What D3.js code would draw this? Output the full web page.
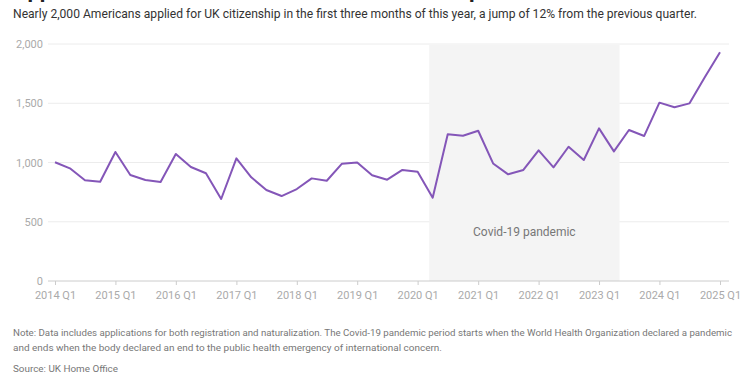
<!DOCTYPE html>
<html>
<head>
<meta charset="utf-8">
<script src="https://cdn.jsdelivr.net/npm/d3@7"></script>
<style>
  body { margin: 0; background: #fff; }
  svg { display: block; font-family: Roboto, sans-serif; }
</style>
</head>
<body>
<div id="chart"></div>
<script>
// quarterly applications, 2014 Q1 .. 2025 Q1
const startYear = 2014
const applications = [
  1002, 951, 850, 838,
  1089, 894, 852, 835,
  1072, 962, 909, 692,
  1035, 875, 768, 717,
  776, 866, 846, 990,
  1001, 892, 855, 937,
  922, 703, 1238, 1226,
  1268, 992, 900, 937,
  1103, 959, 1133, 1021,
  1288, 1094, 1274, 1224,
  1505, 1466, 1499, 1719,
  1930
]
const yTicks = [0, 500, 1000, 1500, 2000]
const xTickYears = d3.range(2014, 2026)
const covidStart = new Date(2020, 2, 11)
const covidEnd = new Date(2023, 4, 5)

const data = applications.map((v, i) => ({
  date: new Date(startYear + Math.floor(i / 4), (i % 4) * 3, 1),
  value: v
}))

let width = 750
let height = 375
let margin = {top: 44, right: 30, bottom: 94, left: 55}

const svg = d3.select('#chart').append('svg')
  .attr('width', width)
  .attr('height', height)

// title is mostly cut off at top of the frame
svg.append('text')
  .attr('x', 13).attr('y', -3.5)
  .attr('font-size', 22).attr('font-weight', 700).attr('fill', '#222')
  .text('Applications from Americans for UK citizenship hit a record')

svg.append('text')
  .attr('x', 13).attr('y', 18)
  .attr('font-size', 12.2).attr('fill', '#333')
  .attr('textLength', 684).attr('lengthAdjust', 'spacingAndGlyphs')
  .text('Nearly 2,000 Americans applied for UK citizenship in the first three months of this year, a jump of 12% from the previous quarter.')

const x = d3.scaleTime()
  .domain([new Date(2014, 0, 1), new Date(2025, 0, 1)])
  .range([margin.left, 720])

const y = d3.scaleLinear()
  .domain([0, 2000])
  .range([281, margin.top])

// gridlines
svg.append('g')
  .selectAll('line')
  .data(yTicks.filter(d => d > 0))
  .join('line')
  .attr('x1', 48).attr('x2', 729)
  .attr('y1', d => y(d)).attr('y2', d => y(d))
  .attr('stroke', '#ececec')

// covid shading
svg.append('rect')
  .attr('x', x(covidStart))
  .attr('y', y(2000) + 1)
  .attr('width', x(covidEnd) - x(covidStart))
  .attr('height', y(0) - y(2000) - 1)
  .attr('fill', '#f4f4f4')

svg.append('text')
  .attr('x', (x(covidStart) + x(covidEnd)) / 2)
  .attr('y', 236)
  .attr('text-anchor', 'middle')
  .attr('font-size', 12).attr('fill', '#777')
  .text('Covid-19 pandemic')

// y labels
svg.append('g')
  .selectAll('text')
  .data(yTicks)
  .join('text')
  .attr('x', 43)
  .attr('y', d => y(d) + 4)
  .attr('text-anchor', 'end')
  .attr('font-size', 11).attr('fill', '#aaa')
  .text(d => d3.format(',')(d))

// x axis
const xAxis = svg.append('g')
  .attr('transform', `translate(0,${y(0)})`)
  .call(d3.axisBottom(x)
    .tickValues(xTickYears.map(yr => new Date(yr, 0, 1)))
    .tickFormat(d => d.getFullYear() + ' Q1')
    .tickSize(4)
    .tickPadding(6))

xAxis.select('.domain').remove()
xAxis.insert('line', ':first-child')
  .attr('x1', 48).attr('x2', 729)
  .attr('stroke', '#ccc')
xAxis.selectAll('.tick line').attr('stroke', '#ccc')
xAxis.selectAll('.tick text')
  .attr('font-family', 'Roboto, sans-serif')
  .attr('font-size', 11).attr('fill', '#aaa')

// the line
const line = d3.line()
  .x(d => x(d.date))
  .y(d => y(d.value))

svg.append('path')
  .datum(data)
  .attr('fill', 'none')
  .attr('stroke', '#8456b8')
  .attr('stroke-width', 2)
  .attr('stroke-linejoin', 'round')
  .attr('d', line)

// notes
const notes = [
  {t: 'Note: Data includes applications for both registration and naturalization. The Covid-19 pandemic period starts when the World Health Organization declared a pandemic', w: 719},
  {t: 'and ends when the body declared an end to the public health emergency of international concern.', w: 429}
]
svg.append('g')
  .selectAll('text')
  .data(notes)
  .join('text')
  .attr('x', 13)
  .attr('y', (d, i) => 336 + i * 15)
  .attr('font-size', 9.6).attr('fill', '#777')
  .attr('textLength', d => d.w).attr('lengthAdjust', 'spacingAndGlyphs')
  .text(d => d.t)

svg.append('text')
  .attr('x', 13).attr('y', 372)
  .attr('font-size', 9.6).attr('fill', '#777')
  .attr('textLength', 105).attr('lengthAdjust', 'spacingAndGlyphs')
  .text('Source: UK Home Office')
</script>
</body>
</html>
